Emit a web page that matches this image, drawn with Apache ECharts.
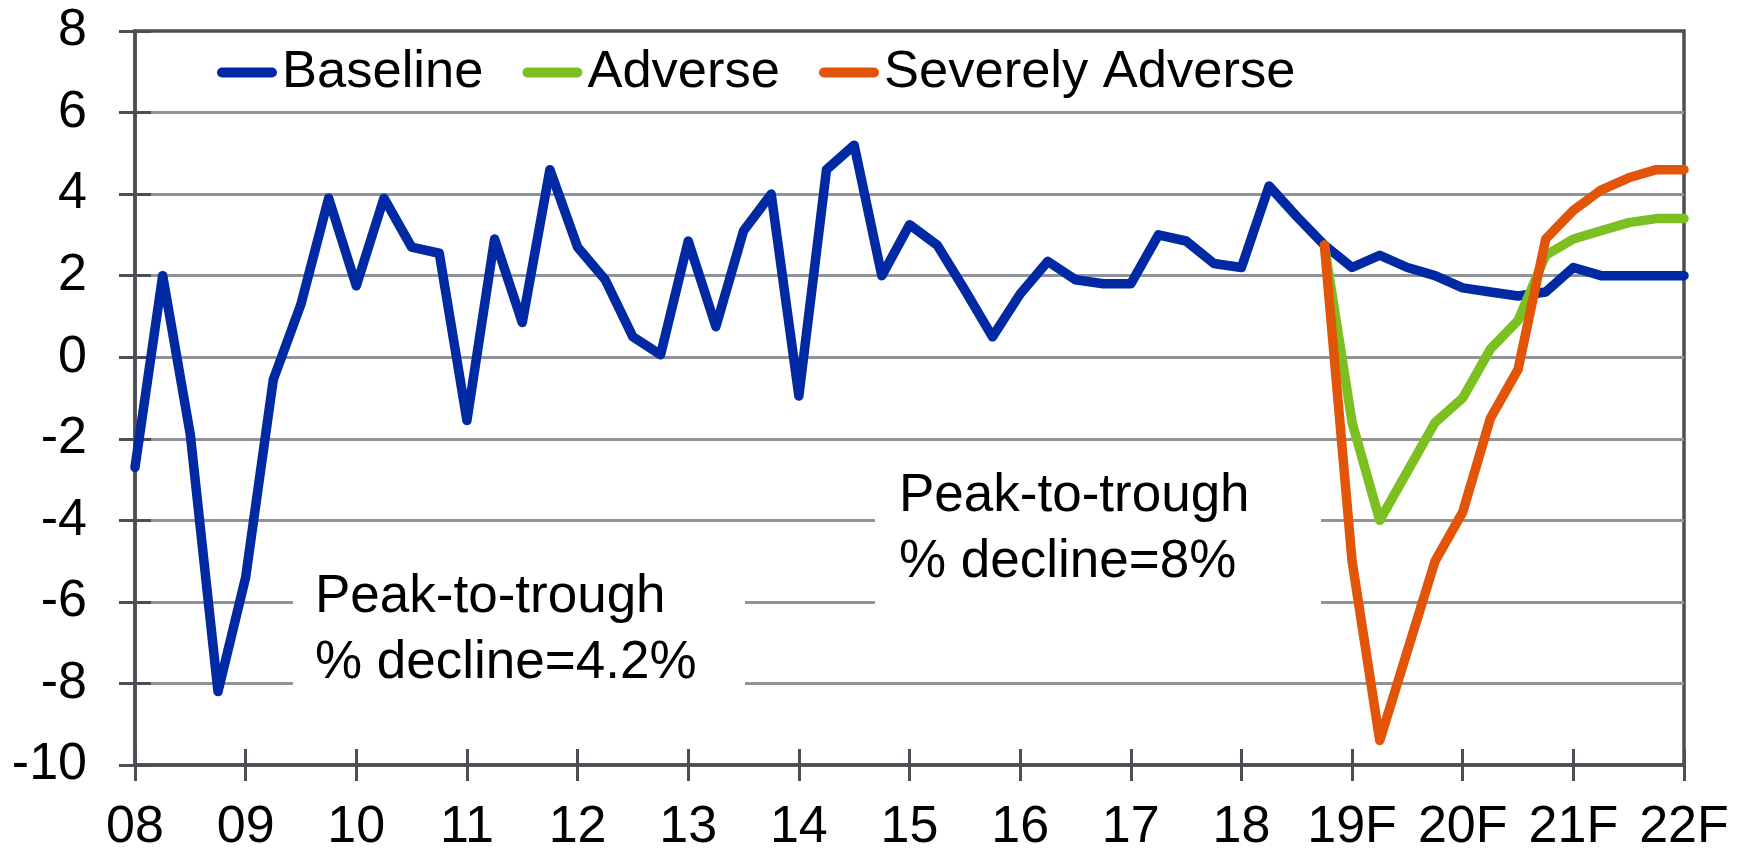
<!DOCTYPE html>
<html>
<head>
<meta charset="utf-8">
<script src="https://cdn.jsdelivr.net/npm/echarts@6/dist/echarts.min.js"></script>
<style>
  html, body { margin: 0; padding: 0; background: #fff; }
  #chart { width: 1745px; height: 854px; }
</style>
</head>
<body>
<div id="chart"></div>
<script>
// year tick labels, one per 4 quarters
const yearLabels = ["08", "09", "10", "11", "12", "13", "14", "15", "16", "17", "18", "19F", "20F", "21F", "22F"];

// 08Q1 .. 22Q1
const baseline = [
  -2.7, 2.0, -1.9, -8.2,
  -5.4, -0.55, 1.3, 3.9,
  1.75, 3.9, 2.7, 2.55,
  -1.55, 2.9, 0.85, 4.6,
  2.7, 1.9, 0.5, 0.06,
  2.85, 0.75, 3.1, 4.0,
  -0.95, 4.6, 5.2, 2.0,
  3.25, 2.75, 1.65, 0.5,
  1.55, 2.35, 1.9, 1.8,
  1.8, 3.0, 2.85, 2.3,
  2.2, 4.2, 3.45, 2.75,
  2.2, 2.5, 2.2, 2.0,
  1.7, 1.6, 1.5, 1.6,
  2.2, 2.0, 2.0, 2.0,
  2.0
];

// scenarios start at 18Q4
const scenarioStart = 43;
const adverse = [2.75, -1.6, -4.0, -2.8, -1.6, -1.0, 0.2, 0.9, 2.5, 2.9, 3.1, 3.3, 3.4, 3.4];
const severelyAdverse = [2.75, -5.0, -9.4, -7.2, -5.0, -3.8, -1.5, -0.3, 2.9, 3.6, 4.1, 4.4, 4.6, 4.6];

const quarters = [];
for (let i = 0; i < baseline.length; i++) {
  quarters.push(yearLabels[Math.floor(i / 4)] + "Q" + ((i % 4) + 1));
}

function pad(arr) {
  let out = [];
  for (let i = 0; i < scenarioStart; i++) out.push(null);
  return out.concat(arr);
}

const font = "'Liberation Sans', Arial, sans-serif";
const axisColor = "#4b4f54";
const gridColor = "#909399";

let chart = echarts.init(document.getElementById("chart"));

let lineSeries = (name, data, color) => ({
  name: name,
  type: "line",
  data: data,
  symbol: "none",
  color: color,
  z: 3,
  lineStyle: { width: 9.5, color: color, cap: "round", join: "round" },
  emphasis: { disabled: true },
});

let legendIcon = "path://M5,0 L55,0 A5,5 0 0 1 55,10 L5,10 A5,5 0 0 1 5,0 Z";

// white boxes behind the two notes (hide the gridlines there)
let note = (left, top, w, h, tx, ty, text) => ({
  type: "group",
  left: left,
  top: top,
  children: [
    { type: "rect", z: 1, shape: { x: 0, y: 0, width: w, height: h }, style: { fill: "#fff" } },
    {
      type: "text",
      z: 1,
      x: tx,
      y: ty,
      style: { text: text, font: "53px " + font, fill: "#000", lineHeight: 66 },
    },
  ],
});

let option = {
  animation: false,
  grid: {
    left: 135,
    right: 61,
    top: 31,
    bottom: 87,
    show: true,
    borderColor: axisColor,
    borderWidth: 3.5,
    backgroundColor: "transparent",
  },
  legend: {
    left: 212,
    top: 41,
    itemWidth: 60,
    itemHeight: 10,
    itemGap: 39,
    icon: legendIcon,
    selectedMode: false,
    data: ["Baseline", "Adverse", "Severely Adverse"],
    textStyle: { fontSize: 52.5, color: "#000", fontFamily: font },
  },
  xAxis: [
    {
      type: "category",
      data: quarters,
      boundaryGap: false,
      axisLine: { onZero: false, lineStyle: { color: axisColor, width: 3.5 } },
      axisTick: { interval: 3, length: 16, lineStyle: { color: axisColor, width: 3 } },
      axisLabel: {
        interval: 3,
        margin: 37,
        fontSize: 52,
        color: "#000",
        fontFamily: font,
        formatter: function (value, index) {
          return yearLabels[index / 4];
        },
      },
      splitLine: { show: false },
    },
    {
      type: "category",
      data: quarters,
      boundaryGap: false,
      position: "bottom",
      axisLine: { show: false, onZero: false },
      axisTick: { interval: 3, length: 16, inside: true, lineStyle: { color: axisColor, width: 3 } },
      axisLabel: { show: false },
      splitLine: { show: false },
    },
  ],
  yAxis: [
    {
      type: "value",
      min: -10,
      max: 8,
      interval: 2,
      axisLine: { show: true, onZero: false, lineStyle: { color: axisColor, width: 3.5 } },
      axisTick: { show: true, length: 16, lineStyle: { color: axisColor, width: 3 } },
      axisLabel: { margin: 48, fontSize: 52, color: "#000", fontFamily: font },
      splitLine: { show: true, showMaxLine: false, lineStyle: { color: gridColor, width: 3 } },
    },
    {
      type: "value",
      min: -10,
      max: 8,
      interval: 2,
      position: "left",
      axisLine: { show: false, onZero: false },
      axisTick: { show: true, inside: true, length: 16, lineStyle: { color: axisColor, width: 3 } },
      axisLabel: { show: false },
      splitLine: { show: false },
    },
  ],
  graphic: [
    note(293, 548, 452, 170, 22, 16, "Peak-to-trough\n% decline=4.2%"),
    note(875, 452, 446, 170, 24, 11, "Peak-to-trough\n% decline=8%"),
  ],
  series: [
    lineSeries("Baseline", baseline, "#0029a3"),
    lineSeries("Adverse", pad(adverse), "#7bbf21"),
    lineSeries("Severely Adverse", pad(severelyAdverse), "#e25508"),
  ],
};
chart.setOption(option);
</script>
</body>
</html>
